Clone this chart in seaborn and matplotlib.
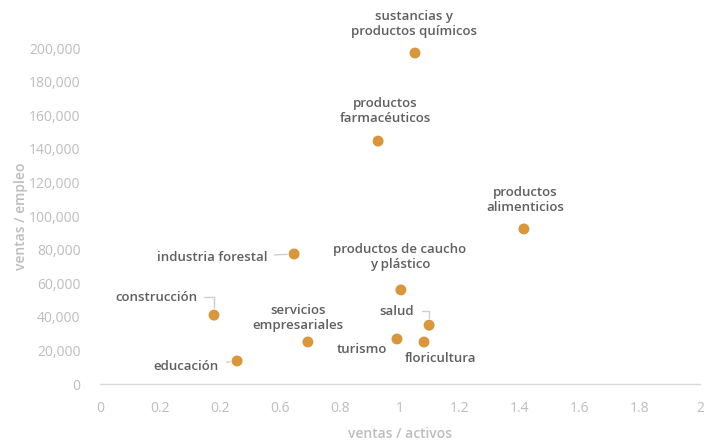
import matplotlib
matplotlib.use("Agg")
import matplotlib.pyplot as plt
import seaborn as sns
import pandas as pd

sectors = ["sustancias y\nproductos químicos", "productos\nfarmacéuticos", "productos\nalimenticios",
           "industria forestal", "productos de caucho\ny plástico", "construcción",
           "servicios\nempresariales", "salud", "turismo", "floricultura", "educación"]
ventas_activos = [1.05, 0.927, 1.413, 0.647, 1.003, 0.38, 0.693, 1.097, 0.99, 1.08, 0.457]
ventas_empleo = [197000, 144600, 92300, 77400, 56000, 41000, 25000, 35000, 26800, 25000, 13700]

x_ticks = [0, 0.2, 0.4, 0.6, 0.8, 1.0, 1.2, 1.4, 1.6, 1.8, 2.0]
x_tick_labels = ["0", "0.2", "0.2", "0.6", "0.8", "1", "1.2", "1.4", "1.6", "1.8", "2"]
y_ticks = list(range(0, 200001, 20000))

# label layout: offset in pixels (dx, dy), horizontal alignment, leader line style
label_layout = [
    (-1, 29, "center", None),
    (7, 30, "center", None),
    (1, 29, "center", None),
    (-27, -4, "right", "arc3"),
    (-1, 33, "center", None),
    (-17, 18, "right", "angle,angleA=0,angleB=90,rad=0"),
    (-10, 24, "center", None),
    (-15, 14, "right", "angle,angleA=0,angleB=90,rad=0"),
    (-35, -11, "center", None),
    (17, -16, "center", None),
    (-18, -6, "right", "arc3"),
]

df = pd.DataFrame({"sector": sectors, "va": ventas_activos, "ve": ventas_empleo})

sns.set_style("white")
plt.rcParams["font.family"] = ["Open Sans", "DejaVu Sans"]

fig = plt.figure(figsize=(7.21, 4.43), dpi=100)
ax = fig.add_axes([100 / 721, 59 / 443, 600 / 721, 336 / 443])

sns.scatterplot(data=df, x="va", y="ve", ax=ax, color="#D9963A", s=62,
                edgecolor="none", zorder=3, clip_on=False)

px = 0.72
for (name, xv, yv), (dx, dy, ha, conn) in zip(zip(sectors, ventas_activos, ventas_empleo), label_layout):
    kw = {}
    if conn is not None:
        kw["arrowprops"] = dict(arrowstyle="-", color="#cfcfcf", lw=1.0,
                                shrinkA=3, shrinkB=5, connectionstyle=conn)
    ax.annotate(name, xy=(xv, yv), xytext=(dx * px, dy * px), textcoords="offset points",
                ha=ha, va="center", fontsize=9.5, color="#5f5f5f", fontweight="semibold",
                linespacing=1.25, annotation_clip=False, **kw)

ax.set_xlim(0, 2)
ax.set_ylim(0, 200000)
ax.set_xticks(x_ticks)
ax.set_xticklabels(x_tick_labels)
ax.set_yticks(y_ticks)
ax.set_yticklabels([f"{v:,}" for v in y_ticks])
ax.tick_params(axis="both", length=0, labelsize=10, labelcolor="#bdbdbd")
ax.tick_params(axis="x", pad=12)
ax.tick_params(axis="y", pad=14)

for s in ["top", "right", "left"]:
    ax.spines[s].set_visible(False)
ax.spines["bottom"].set_color("#d9d9d9")
ax.spines["bottom"].set_linewidth(1)

ax.set_xlabel("ventas / activos", fontsize=10, color="#bdbdbd", fontweight="semibold", labelpad=8)
ax.set_ylabel("ventas / empleo", fontsize=10, color="#bdbdbd", fontweight="semibold", labelpad=1)
ax.grid(False)

fig.savefig("out.png", dpi=100)
